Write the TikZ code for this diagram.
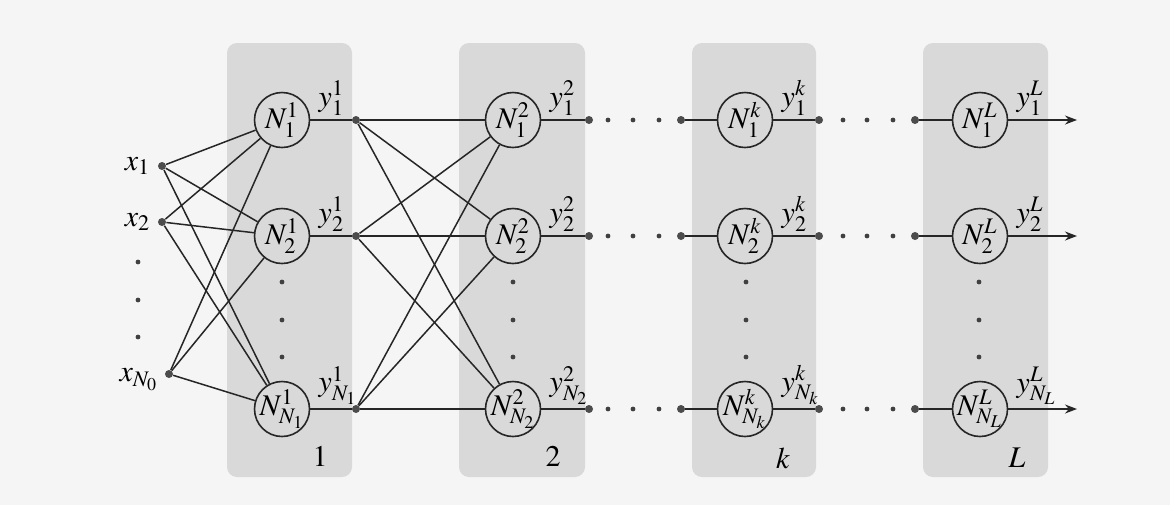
\documentclass[tikz,border=0pt]{standalone}
\usepackage{mathptmx}
\usetikzlibrary{arrows.meta}
\begin{document}
\begin{tikzpicture}[x=0.5pt,y=-0.5pt,
  neuron/.style={circle,draw=black!85,line width=0.8pt,minimum size=27.5pt,inner sep=-4pt,font=\fontsize{15}{17}\selectfont},
  layerbox/.style={fill=black!15,rounded corners=5pt},
  conn/.style={draw=black!85,line width=0.75pt},
  jdot/.style={circle,fill=black!70,inner sep=0pt,minimum size=4pt},
  sdot/.style={circle,fill=black!75,inner sep=0pt,minimum size=2.4pt},
  lbl/.style={font=\fontsize{15}{17}\selectfont,inner sep=0pt},
  ylbl/.style={lbl,anchor=south west,xshift=4pt,yshift=2pt},
  outarrow/.style={conn,-{Stealth[length=6pt,width=4.5pt]}}
]
\useasboundingbox (0,0) rectangle (1170,505);
\fill[black!4] (0,0) rectangle (1170,505);
% layer boxes
\fill[layerbox] (227,43) rectangle (352,477);
\fill[layerbox] (459,43) rectangle (585,477);
\fill[layerbox] (692,43) rectangle (816,477);
\fill[layerbox] (923,43) rectangle (1048,477);
% inputs
\node[jdot] (in1) at (162,166) {};
\node[jdot] (in2) at (162,222) {};
\node[jdot] (in3) at (169,374) {};
\node[lbl,anchor=east] (xl1) at ([xshift=-3.5pt]in1.west) {$x_1$};
\node[lbl,anchor=east] (xl2) at ([xshift=-3.5pt]in2.west) {$x_2$};
\node[lbl,anchor=east] (xl3) at ([xshift=-3pt,yshift=-3pt]in3.west) {$x_{N_0}$};
\node[sdot] (xd1) at (138,262) {};
\node[sdot] (xd2) at (138,300) {};
\node[sdot] (xd3) at (138,337) {};
% layer 1
\node[neuron] (a1) at (282,120) {$N_1^1$};
\node[neuron] (a2) at (282,236) {$N_2^1$};
\node[neuron] (a3) at (282,409) {$N_{N_1}^1$};
% layer 2
\node[neuron] (b1) at (513,120) {$N_1^2$};
\node[neuron] (b2) at (513,236) {$N_2^2$};
\node[neuron] (b3) at (513,409) {$N_{N_2}^2$};
% layer k
\node[neuron] (k1) at (745,120) {$N_1^k$};
\node[neuron] (k2) at (745,236) {$N_2^k$};
\node[neuron] (k3) at (745,409) {$N_{N_k}^k$};
% layer L
\node[neuron] (L1) at (980,120) {$N_1^L$};
\node[neuron] (L2) at (980,236) {$N_2^L$};
\node[neuron] (L3) at (980,409) {$N_{N_L}^L$};
% vertical dots in layers
\foreach \n/\x in {a/282,b/513,k/746,L/979}{
  \node[sdot] (\n v1) at (\x,282) {};
  \node[sdot] (\n v2) at (\x,320) {};
  \node[sdot] (\n v3) at (\x,357) {};
}
% junctions and dots per row
\foreach \i/\y in {1/120,2/236,3/409}{
  \node[jdot] (ja\i) at (356,\y) {};
  \node[jdot] (jb\i) at (589,\y) {};
  \node[sdot] (db\i a) at (608,\y) {};
  \node[sdot] (db\i b) at (633,\y) {};
  \node[sdot] (db\i c) at (659,\y) {};
  \node[jdot] (jc\i) at (681,\y) {};
  \node[jdot] (jk\i) at (819,\y) {};
  \node[sdot] (dk\i a) at (843,\y) {};
  \node[sdot] (dk\i b) at (867,\y) {};
  \node[sdot] (dk\i c) at (893,\y) {};
  \node[jdot] (jl\i) at (915,\y) {};
  \coordinate (out\i) at (1077,\y);
}
% connections
\foreach \i in {in1,in2,in3}{\foreach \j in {a1,a2,a3}{\draw[conn] (\i) -- (\j);}}
\foreach \i in {1,2,3}{
  \draw[conn] (a\i) -- (ja\i);
  \foreach \j in {1,2,3}{\draw[conn] (ja\i) -- (b\j);}
  \draw[conn] (b\i) -- (jb\i);
  \draw[conn] (jc\i) -- (k\i);
  \draw[conn] (k\i) -- (jk\i);
  \draw[conn] (jl\i) -- (L\i);
  \draw[outarrow] (L\i) -- (out\i);
}
% output labels
\node[ylbl] (ya1) at (a1.east) {$y_1^1$};
\node[ylbl] (ya2) at (a2.east) {$y_2^1$};
\node[ylbl] (ya3) at (a3.east) {$y_{N_1}^1$};
\node[ylbl] (yb1) at (b1.east) {$y_1^2$};
\node[ylbl] (yb2) at (b2.east) {$y_2^2$};
\node[ylbl] (yb3) at (b3.east) {$y_{N_2}^2$};
\node[ylbl] (yk1) at (k1.east) {$y_1^k$};
\node[ylbl] (yk2) at (k2.east) {$y_2^k$};
\node[ylbl] (yk3) at (k3.east) {$y_{N_k}^k$};
\node[ylbl] (yL1) at (L1.east) {$y_1^L$};
\node[ylbl] (yL2) at (L2.east) {$y_2^L$};
\node[ylbl] (yL3) at (L3.east) {$y_{N_L}^L$};
% layer numbers
\node[lbl] (n1) at (320,456) {$1$};
\node[lbl] (n2) at (553,456) {$2$};
\node[lbl] (nk) at (783,458) {$k$};
\node[lbl] (nL) at (1017,458) {$L$};
\end{tikzpicture}
\end{document}
